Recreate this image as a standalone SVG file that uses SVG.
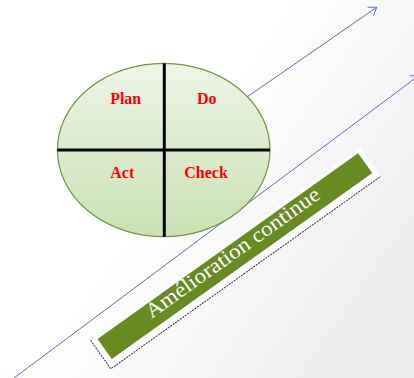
<svg xmlns="http://www.w3.org/2000/svg" width="414" height="378" viewBox="0 0 414 378">
<style>
.lbl{font-family:"Liberation Serif","Times New Roman",serif;font-weight:bold;font-size:16px;fill:#ff0000;text-anchor:middle}
.arr{stroke:#5570c4;stroke-width:1;fill:none}
.div{stroke:#000;stroke-width:3}
</style>
<defs>
<linearGradient id="bg" x1="0.45" y1="0.35" x2="1" y2="0.7">
<stop offset="0" stop-color="#ffffff"/><stop offset="1" stop-color="#ededed"/>
</linearGradient>
<linearGradient id="ell" x1="0" y1="0" x2="0" y2="1">
<stop offset="0" stop-color="#eef5e8"/><stop offset="1" stop-color="#c9e1b2"/>
</linearGradient>
<marker id="ah" viewBox="-8 -6 10 12" refX="0" refY="0" markerWidth="10" markerHeight="12" markerUnits="userSpaceOnUse" orient="auto">
<path d="M-7.5,-5.2 L0,0 L-7.5,5.2" fill="none" stroke="#5570c4" stroke-width="1"/>
</marker>
</defs>
<rect width="414" height="378" fill="url(#bg)"/>
<g id="connectors">
<line class="arr" x1="200" y1="129.5" x2="376.7" y2="7.3" marker-end="url(#ah)"/>
<line class="arr" x1="10" y1="381" x2="419" y2="75.5" marker-end="url(#ah)"/>
</g>
<g id="pdca">
<ellipse cx="163.7" cy="150" rx="106.3" ry="86.7" fill="url(#ell)" stroke="#77933c" stroke-width="1.2"/>
<line class="div" x1="164.3" y1="63.3" x2="164.3" y2="236.7"/>
<line class="div" x1="57.4" y1="150" x2="270" y2="150"/>
</g>
<g id="plan"><text class="lbl" x="125.7" y="104">Plan</text></g>
<g id="do"><text class="lbl" x="206.7" y="104">Do</text></g>
<g id="act"><text class="lbl" x="122.3" y="177.7">Act</text></g>
<g id="check"><text class="lbl" x="206" y="177.7">Check</text></g>
<g id="banner" transform="translate(99,341) rotate(-35.5)">
<rect x="-6.5" y="-5.5" width="331.5" height="35" fill="#ffffff"/>
<path d="M-6.5,-5.5 L-6.5,29.5 L325,29.5" fill="none" stroke="#333" stroke-width="1" stroke-dasharray="2,1"/>
<rect x="0" y="-2.5" width="320" height="24.5" fill="#678a21"/>
<text x="160" y="12.5" font-family="'Liberation Serif','Times New Roman',serif" font-size="21" fill="#ffffff" text-anchor="middle" textLength="209" lengthAdjust="spacingAndGlyphs">Amélioration continue</text>
</g>
</svg>
